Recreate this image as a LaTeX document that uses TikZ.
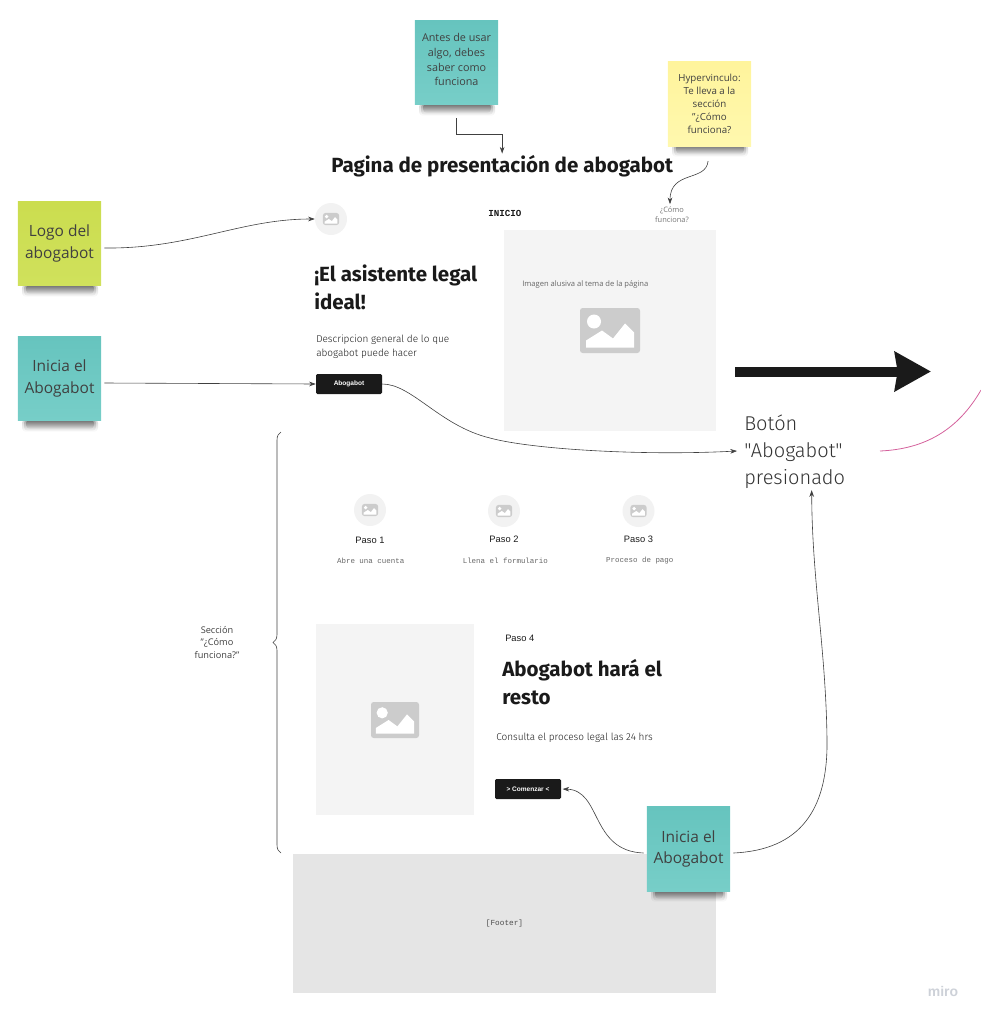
\documentclass[tikz,border=0pt]{standalone}
\usepackage{fontspec}
\setmainfont{Open Sans}
\newfontfamily\plexfont{Fira Sans}
\newfontfamily\plexlight{Fira Sans Light}
\newfontfamily\arialfont{Liberation Sans}
\newfontfamily\monofont{Liberation Mono}
\usetikzlibrary{positioning,arrows.meta,calc,fadings,decorations.pathreplacing}
\definecolor{inktext}{HTML}{1A1A1A}
\definecolor{tealtop}{HTML}{66C4BE}
\definecolor{tealbottom}{HTML}{77CEC8}
\definecolor{limetop}{HTML}{CBDD4F}
\definecolor{limebottom}{HTML}{D0E15C}
\definecolor{yellowtop}{HTML}{FFF49C}
\definecolor{yellowbottom}{HTML}{FFF8AE}
\definecolor{pinkline}{HTML}{D4619C}
\definecolor{mirogray}{HTML}{CDD1D8}
\tikzset{>={Stealth[width=3.5pt,length=5pt]}}
\tikzset{
    sticky/.style={minimum width=62.5pt, minimum height=63.5pt, inner sep=0pt, align=center, text=black!75},
    tealnote/.style={sticky, top color=tealtop, bottom color=tealbottom},
    limenote/.style={sticky, top color=limetop, bottom color=limebottom},
    yellownote/.style={sticky, top color=yellowtop, bottom color=yellowbottom},
    bigtext/.style={font=\fontsize{11.6}{16.2}\selectfont},
    smalltext/.style={font=\fontsize{8.1}{11.1}\selectfont},
    tinytext/.style={font=\fontsize{7.3}{9.8}\selectfont},
    heading/.style={anchor=west, align=left, inner sep=0pt, text=inktext, font=\plexfont\bfseries\fontsize{15.4}{21}\selectfont},
    bodytext/.style={anchor=west, align=left, inner sep=0pt, text=inktext, font=\plexlight\fontsize{7.5}{10.5}\selectfont},
    stepname/.style={inner sep=0pt, text=inktext, font=\arialfont\fontsize{7}{9}\selectfont},
    stepnote/.style={inner sep=0pt, text=black!60, font=\monofont\fontsize{5.6}{7}\selectfont},
    blackbutton/.style={fill=inktext, rounded corners=1pt, minimum width=49.5pt, minimum height=15pt, inner sep=0pt, text=white, font=\arialfont\bfseries\fontsize{4.9}{6}\selectfont},
    imgbox/.style={fill=black!4.5, inner sep=0pt},
    imgcircle/.style={circle, fill=black!5, minimum size=24pt, inner sep=0pt},
    linkline/.style={draw=black!75, line width=.45pt},
    imgicon/.pic={
        \fill[black!20, rounded corners=2pt] (-30,-22.5) rectangle (30,22.5);
        \fill[white] (-16,-9) circle [radius=7];
        \fill[white] (-24,17) -- (-24,10) -- (-8,0) -- (3,8) -- (15,-7) -- (24,2) -- (24,17) -- cycle;
    },
    stickyshadow/.pic={
        \fill[black, opacity=.18, path fading=south, rounded corners=3pt] (-37,-2) rectangle (39,11);
        \fill[black, opacity=.25, path fading=south, rounded corners=3pt] (-35,-2) rectangle (37,10);
        \fill[black, opacity=.35, path fading=south, rounded corners=3pt] (-33,-2) rectangle (35,8);
    },
}

\begin{document}
\begin{tikzpicture}[x=.75pt, y=-.75pt]
    \useasboundingbox (0,0) rectangle (981,1018);

    % wireframe
    \node[imgbox, minimum width=159pt, minimum height=151pt] (heroimage) at (610,330.5) {};
    \pic at (610,330.5) {imgicon};
    \node[anchor=west, inner sep=0pt, text=black!60, font=\fontsize{5.7}{8}\selectfont] (herolabel) at (522,284) {Imagen alusiva al tema de la página};
    \node[imgbox, minimum width=118.5pt, minimum height=143pt] (stepimage) at (395,719.5) {};
    \pic[scale=.8] at (395,720) {imgicon};
    \node[fill=black!10, minimum width=317pt, minimum height=104pt, inner sep=0pt, text=black!70, font=\monofont\fontsize{5.8}{7}\selectfont] (footer) at (504.5,923.5) {[Footer]};

    \node[heading] (title) at (331,166) {Pagina de presentación de abogabot};
    \node[imgcircle] (logoicon) at (331,219) {};
    \pic[scale=.27] at (331,219) {imgicon};
    \node[anchor=west, inner sep=0pt, text=inktext, font=\monofont\bfseries\fontsize{6.9}{8}\selectfont] (inicio) at (488,213) {INICIO};
    \node[align=center, inner sep=0pt, text=black!55, font=\fontsize{5.6}{7.5}\selectfont] (comofunciona) at (672,215) {¿Cómo\\funciona?};
    \node[heading] (hero) at (314,287) {¡El asistente legal\\ideal!};
    \node[bodytext] (herotext) at (316,347) {Descripcion general de lo que\\abogabot puede hacer};
    \node[blackbutton] (abogabot) at (349,384) {Abogabot};

    \node[imgcircle] (paso1icon) at (370,510) {};
    \pic[scale=.27] at (370,510) {imgicon};
    \node[imgcircle] (paso2icon) at (504,511) {};
    \pic[scale=.27] at (504,511) {imgicon};
    \node[imgcircle] (paso3icon) at (638.5,511) {};
    \pic[scale=.27] at (638.5,511) {imgicon};
    \node[stepname] (paso1) at (370,540.5) {Paso 1};
    \node[stepname] (paso2) at (504,539.5) {Paso 2};
    \node[stepname] (paso3) at (638.5,539.5) {Paso 3};
    \node[stepnote] (nota1) [below = 15.5pt of paso1.center, anchor=center, xshift=.5pt] {Abre una cuenta};
    \node[stepnote] (nota2) [below = 16pt of paso2.center, anchor=center, xshift=1pt] {Llena el formulario};
    \node[stepnote] (nota3) [below = 16pt of paso3.center, anchor=center, xshift=1pt] {Proceso de pago};

    \node[stepname, anchor=west] (paso4) at (505,638.5) {Paso 4};
    \node[heading] (resto) at (502,682.5) {Abogabot hará el\\resto};
    \node[bodytext] (consulta) at (496,737.5) {Consulta el proceso legal las 24 hrs};
    \node[blackbutton] (comenzar) at (528,789) {> Comenzar <};

    % notas
    \pic at (456,105) {stickyshadow};
    \node[tealnote, smalltext] (antes) at (456.5,62.5) {Antes de usar\\algo, debes\\saber como\\funciona\\[-6.6pt]};
    \pic at (709,146) {stickyshadow};
    \node[yellownote, tinytext] (hyper) at (709.5,104) {Hypervinculo:\\Te lleva a la\\sección\\"¿Cómo\\funciona?};
    \pic at (59,286) {stickyshadow};
    \node[limenote, bigtext] (logonote) at (59.5,243.5) {Logo del\\abogabot};
    \pic at (59,421) {stickyshadow};
    \node[tealnote, bigtext] (inicianote) at (59.5,378.5) {Inicia el\\Abogabot};
    \pic at (688,891) {stickyshadow};
    \node[tealnote, bigtext] (comenzarnote) at (688.5,849) {Inicia el\\Abogabot};

    \node[anchor=west, align=left, inner sep=0pt, text=black!80, font=\plexlight\fontsize{15}{20.3}\selectfont] (presionado) at (744,452) {Botón\\"Abogabot"\\presionado};
    \node[align=center, inner sep=0pt, text=black!75, font=\fontsize{6.9}{9.5}\selectfont] (seccion) at (217,642.5) {Sección\\"¿Cómo\\funciona?"};
    \node[inner sep=0pt, text=mirogray, font=\arialfont\bfseries\fontsize{10.5}{12}\selectfont] (miro) at (943,991) {miro};

    % conectores
    \coordinate (bigstart) at (735,371.5);
    \coordinate (bigend) at (931,371.5);
    \coordinate (pinkstart) at (880,451);
    \coordinate (pinkend) at (981,390);
    \coordinate (bracetop) at (281,432);
    \coordinate (bracebottom) at (281,853);
    \draw[line width=7.5pt, draw=inktext, -{Stealth[width=29pt,length=27pt,inset=2pt]}] (bigstart) -- (bigend);
    \draw[draw=pinkline, line width=.6pt] (pinkstart) .. controls (925,449) and (958,430) .. (pinkend);
    \draw[linkline, decorate, decoration={brace, amplitude=6pt}] (bracebottom) -- (bracetop);

    \draw[linkline, ->, shorten <=10pt, shorten >=1pt] (antes.south) |- ++(23,29) -| (title.north);
    \draw[linkline, ->, shorten <=11pt, shorten >=2pt] (hyper.south) .. controls (706,182) and (670,170) .. (comofunciona.north -| 670,204);
    \draw[linkline, ->] ($(logonote.east)+(3,4.5)$) .. controls (190,249) and (240,219) .. (logoicon.west);
    \draw[linkline, ->] ($(inicianote.east)+(3,4.5)$) -- (abogabot.west);
    \draw[linkline, ->] (abogabot.east) .. controls (412,384) and (440,426) .. (490,438) .. controls (530,449) and (640,456) .. ($(presionado.west)+(-7,-1)$);
    \draw[linkline, ->] ($(comenzarnote.east)+(3,4)$) .. controls (800,850) and (828,810) .. (827,740) .. controls (826,650) and (812,580) .. ($(presionado.south)+(17,1)$);
    \draw[linkline, ->, shorten >=1pt] ($(comenzarnote.west)+(-3,4)$) .. controls (590,851) and (602,790) .. (comenzar.east);
\end{tikzpicture}
\end{document}
